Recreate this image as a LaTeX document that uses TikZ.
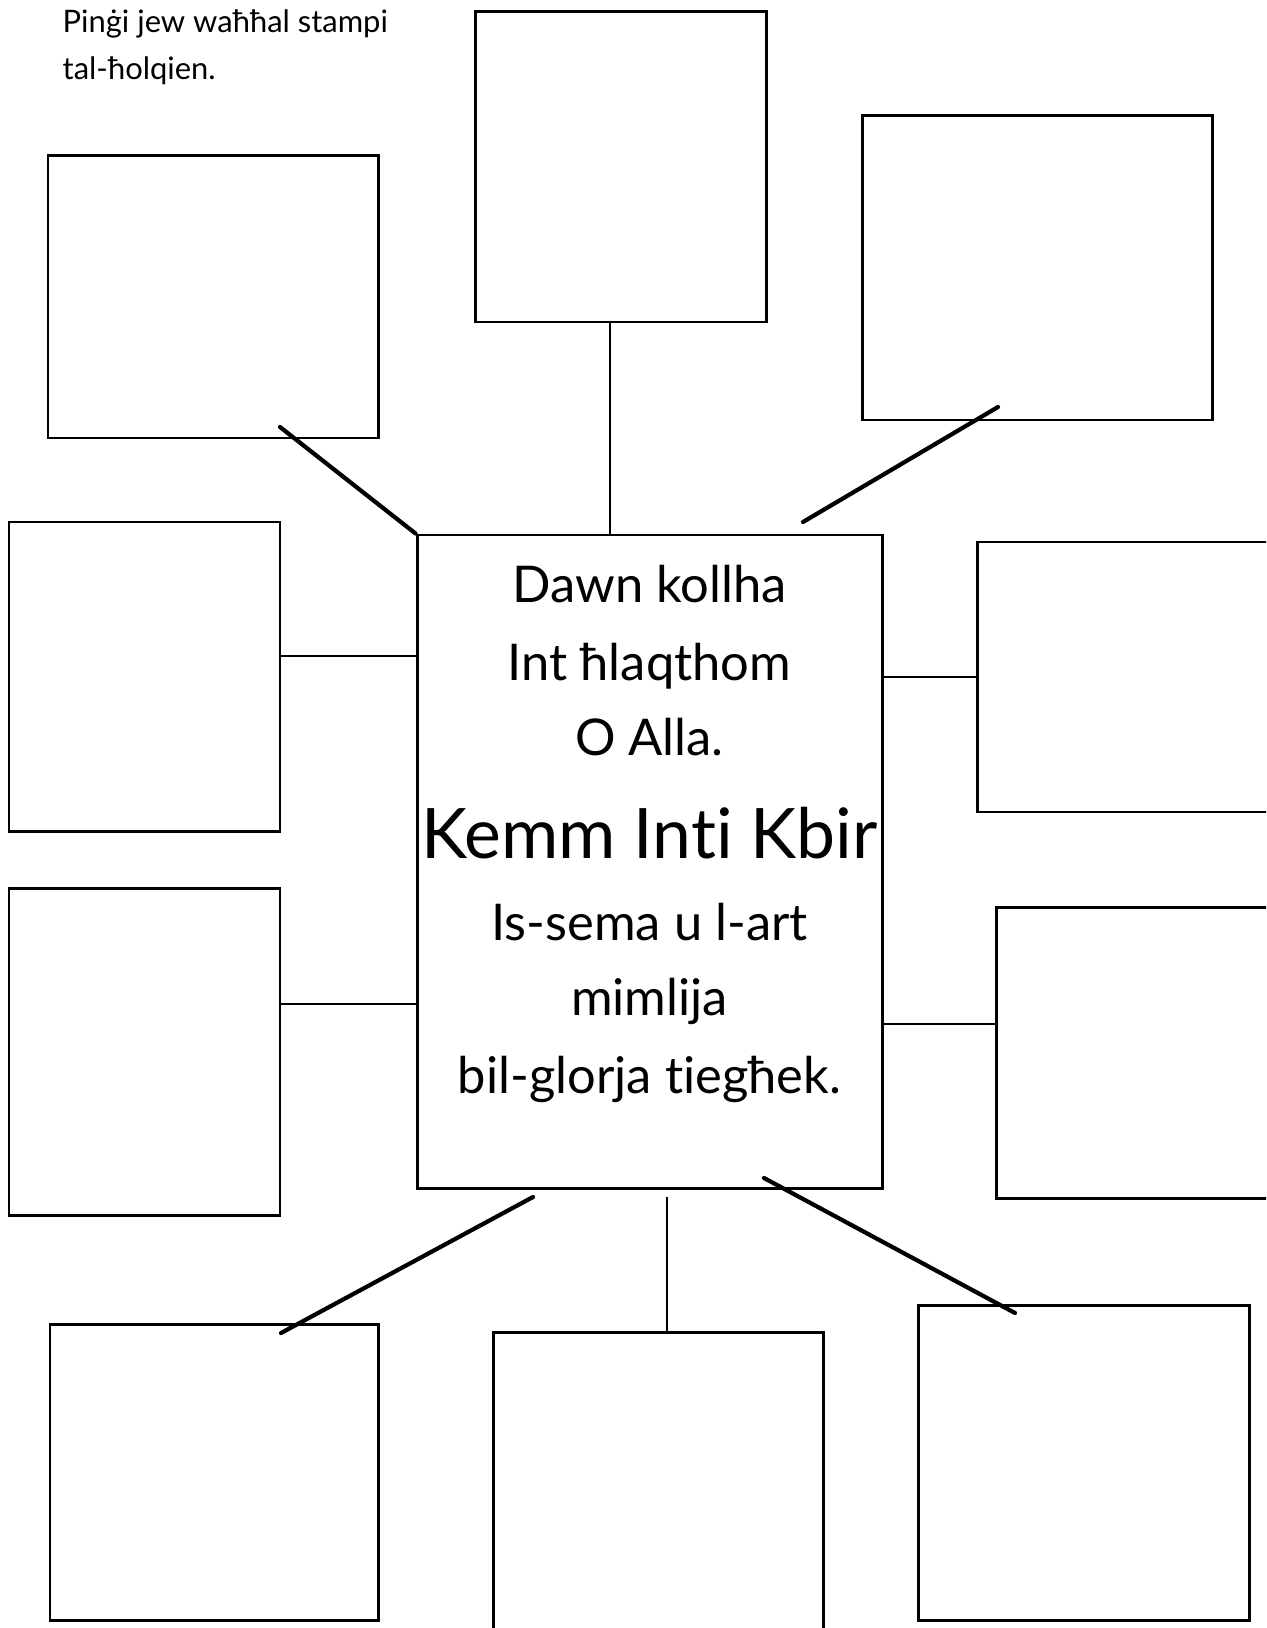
\documentclass[tikz,border=0pt]{standalone}
\usepackage{fontspec}
\setmainfont{Lato}[Ligatures=NoCommon]
\usetikzlibrary{positioning,fit,calc}
\tikzset{
  stampbox/.style={draw,line width=0.85pt,inner sep=0pt},
  link/.style={line width=0.6pt},
  slant/.style={line width=1.2pt,line cap=round},
  verse/.style={anchor=base,inner sep=0pt,font=\fontsize{14.4}{16}\selectfont},
  instr/.style={anchor=base west,inner sep=0pt,font=\fontsize{8.8}{10}\selectfont},
}
\begin{document}
\begin{tikzpicture}[x=0.01cm,y=-0.01cm]
  \useasboundingbox (0,0) rectangle (1266,1628);
  \clip (0,0) rectangle (1266,1628);
  % instruction
  \node[instr] (instrA) at (62,33) {Pinġi jew waħħal stampi};
  \node[instr] (instrB) at (62,80) {tal-ħolqien.};
  % centre box and its verse
  \node[stampbox,fit={(417,535) (882,1188)}] (ctr) {};
  \foreach \yy/\ln in {603/Dawn kollha,680/Int ħlaqthom,755/O Alla.,
                       940/Is-sema u l-art,1015/mimlija,1093/bil-glorja tiegħek.}
    \node[verse] (v\yy) at (649.5,\yy) {\ln};
  \node[verse,font=\fontsize{19.8}{24}\selectfont] (title) at (649.5,858) {Kemm Inti Kbir};
  % empty boxes round it
  \node[stampbox,fit={(475,12) (766,322)}] (tc) {};
  \node[stampbox,fit={(48,156) (378,438)}] (tl) {};
  \node[stampbox,fit={(862,116) (1212,420)}] (tr) {};
  \node[stampbox,fit={(9,522) (280,831)}] (ml1) {};
  \node[stampbox,fit={(9,888) (280,1215)}] (ml2) {};
  \node[stampbox,fit={(977,542) (1290,812)}] (mr1) {};
  \node[stampbox,fit={(996,907) (1290,1198)}] (mr2) {};
  \node[stampbox,fit={(50,1324) (378,1620)}] (bl) {};
  \node[stampbox,fit={(493,1332) (823,1650)}] (bm) {};
  \node[stampbox,fit={(918,1305) (1249,1620)}] (br) {};
  % connectors
  \coordinate (tcfoot) at (610,322);
  \coordinate (tlfoot) at (280,427);
  \coordinate (trfoot) at (998,407);
  \coordinate (trtip) at (803,522);
  \coordinate (ml1c) at (280,656);
  \coordinate (ml2c) at (280,1004);
  \coordinate (mr1c) at (977,677);
  \coordinate (mr2c) at (996,1024);
  \coordinate (blhead) at (533,1197);
  \coordinate (bltip) at (281,1333);
  \coordinate (bmhead) at (667,1197);
  \coordinate (brhead) at (764,1178);
  \coordinate (brtip) at (1015,1313);
  \draw[link] (tcfoot) -- (tcfoot |- ctr.north);
  \draw[slant] (tlfoot) -- (ctr.north west);
  \draw[slant] (trfoot) -- (trtip);
  \draw[link] (ml1c) -- (ml1c -| ctr.west);
  \draw[link] (ml2c) -- (ml2c -| ctr.west);
  \draw[link] (mr1c -| ctr.east) -- (mr1c);
  \draw[link] (mr2c -| ctr.east) -- (mr2c);
  \draw[slant] (blhead) -- (bltip);
  \draw[link] (bmhead) -- (bmhead |- bm.north);
  \draw[slant] (brhead) -- (brtip);
\end{tikzpicture}
\end{document}
